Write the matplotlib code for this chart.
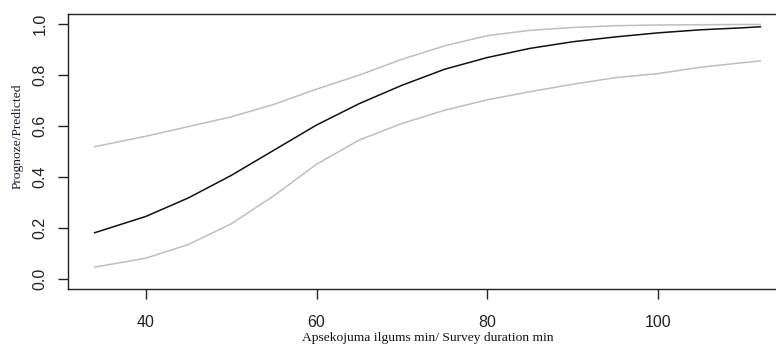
import matplotlib
matplotlib.use("Agg")
import matplotlib.pyplot as plt

# Predicted probability vs survey duration, with confidence band
duration = [34, 40, 45, 50, 55, 60, 65, 70, 75, 80, 85, 90, 95, 100, 105, 110, 112]
fit = [0.181, 0.245, 0.318, 0.406, 0.505, 0.604, 0.688, 0.760, 0.823, 0.869,
       0.905, 0.931, 0.950, 0.966, 0.978, 0.986, 0.990]
lower = [0.046, 0.081, 0.135, 0.216, 0.326, 0.450, 0.545, 0.610, 0.662, 0.703,
         0.735, 0.764, 0.790, 0.806, 0.831, 0.849, 0.856]
upper = [0.519, 0.560, 0.598, 0.636, 0.685, 0.745, 0.800, 0.862, 0.915, 0.955,
         0.976, 0.987, 0.994, 0.997, 0.998, 0.999, 0.999]

x_ticks = [40, 60, 80, 100, 120]
y_ticks = [0.0, 0.2, 0.4, 0.6, 0.8, 1.0]
y_tick_labels = ["0.0", "0.2", "0.4", "0.6", "0.8", "1.0"]

fig = plt.figure(figsize=(7.76, 3.47), dpi=100)
ax = fig.add_axes([0.0876, 0.1671, 0.9265, 0.7925])

ax.plot(duration, upper, color="#bebebe", lw=1.1)
ax.plot(duration, lower, color="#bebebe", lw=1.1)
ax.plot(duration, fit, color="#111111", lw=1.1)

ax.set_xticks(x_ticks)
ax.set_yticks(y_ticks)
ax.set_yticklabels(y_tick_labels, rotation=90, va="center")

# R-style 4% padding around the data range
span = duration[-1] - duration[0]
ax.set_xlim(duration[0] - 0.04 * span, duration[-1] + 0.04 * span)
ax.set_ylim(-0.04, 1.04)

for s in ax.spines.values():
    s.set_linewidth(1.0)
    s.set_color("#222222")

ax.tick_params(axis="both", length=7.5, width=1.0, color="#222222",
               labelsize=11.5, labelcolor="#222222")
ax.tick_params(axis="x", pad=11.5)
ax.tick_params(axis="y", pad=7)
for lbl in ax.get_xticklabels() + ax.get_yticklabels():
    lbl.set_fontfamily("Liberation Sans")

ax.set_xlabel("Apsekojuma ilgums min/ Survey duration min",
              fontfamily="Liberation Serif", fontsize=9.7, color="#111111")
ax.set_ylabel("Prognoze/Predicted", fontfamily="Liberation Serif",
              fontsize=9.7, color="#1a1a33")
ax.xaxis.set_label_coords(0.5, -0.158)
ax.yaxis.set_label_coords(-0.061, 0.556)

fig.savefig("out.png", dpi=100)
